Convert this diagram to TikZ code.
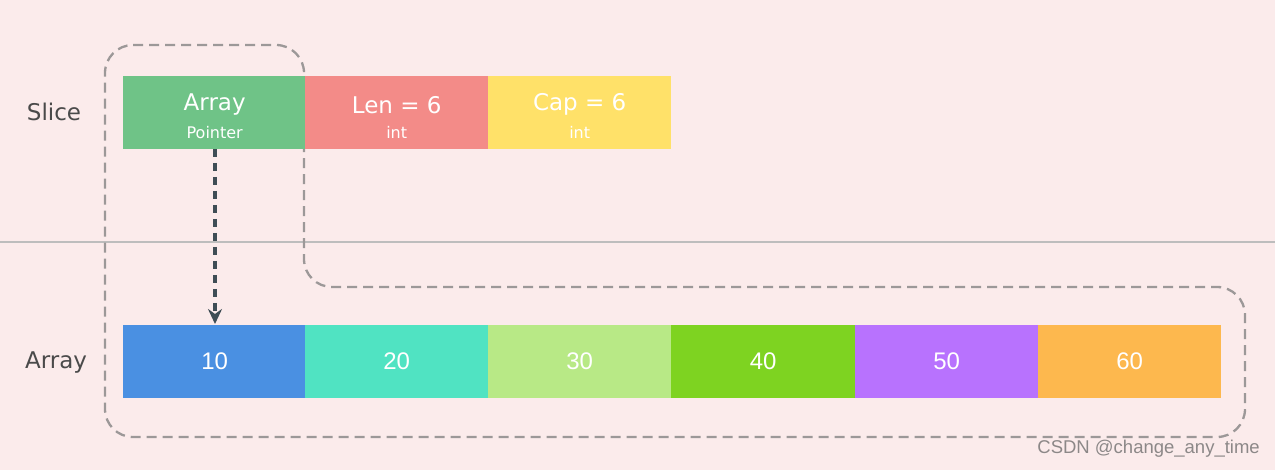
\documentclass[tikz,border=0pt]{standalone}
\usepackage{fontspec}
\setmainfont{Liberation Sans}
\newfontfamily\hdfont{DejaVu Sans}
\usetikzlibrary{arrows.meta}
\definecolor{bg}{HTML}{FBEBEB}
\definecolor{sepc}{HTML}{BDBDBD}
\definecolor{dashc}{HTML}{9C9898}
\definecolor{wmc}{HTML}{8C8888}
\definecolor{arrc}{HTML}{3F4D55}
\definecolor{lblc}{HTML}{4A4A4A}
\definecolor{cA}{HTML}{6FC387}
\definecolor{cL}{HTML}{F38B88}
\definecolor{cC}{HTML}{FFE169}
\definecolor{c1}{HTML}{4A90E2}
\definecolor{c2}{HTML}{50E3C2}
\definecolor{c3}{HTML}{B8E986}
\definecolor{c4}{HTML}{7ED321}
\definecolor{c5}{HTML}{B872FE}
\definecolor{c6}{HTML}{FDB84E}
\tikzset{
  cell/.style={anchor=north west, minimum width=183pt, minimum height=73pt, inner sep=0pt, text=white, align=center, font=\fontsize{24}{26}\selectfont},
  head/.style={text=white, inner sep=0pt, font=\hdfont\fontsize{23}{25}\selectfont},
  subt/.style={text=white, inner sep=0pt, font=\hdfont\fontsize{16}{18}\selectfont},
  side/.style={text=lblc, font=\hdfont\fontsize{23}{25}\selectfont, anchor=center}
}
\begin{document}
\begin{tikzpicture}[x=1pt,y=-1pt]
\fill[bg] (0,0) rectangle (1275,470);
\useasboundingbox (0,0) rectangle (1275,470);
\draw[sepc, line width=2pt] (0,242) -- (1275,242);
% dashed outline
\draw[dashc, line width=2.3pt, dash pattern=on 10pt off 6pt, rounded corners=28pt]
  (105,45) -- (304,45) -- (304,287) -- (1245,287) -- (1245,437) -- (105,437) -- cycle;
% slice
\node[cell, fill=cA] (sa) at (123,76) {};
\node[cell, fill=cL] (sl) at (305,76) {};
\node[cell, fill=cC] (sc) at (488,76) {};
\node[head] (sah) at ([yshift=8pt]sa.center) {Array};
\node[subt] (sas) at ([yshift=-20pt]sa.center) {Pointer};
\node[head] (slh) at ([yshift=8pt]sl.center) {Len = 6};
\node[subt] (sls) at ([yshift=-20pt]sl.center) {int};
\node[head] (sch) at ([yshift=8pt]sc.center) {Cap = 6};
\node[subt] (scs) at ([yshift=-20pt]sc.center) {int};
% array
\node[cell, fill=c1] (a1) at (123,325) {10};
\node[cell, fill=c2] (a2) at (305,325) {20};
\node[cell, fill=c3] (a3) at (488,325) {30};
\node[cell, fill=c4, minimum width=184pt] (a4) at (671,325) {40};
\node[cell, fill=c5] (a5) at (855,325) {50};
\node[cell, fill=c6] (a6) at (1038,325) {60};
\node[side] (ls) at (54,112) {Slice};
\node[side] (la) at (56,363) {Array};
\coordinate (p1) at (215,149);
\coordinate (p2) at (215,324);
\draw[arrc, line width=3.2pt, dash pattern=on 8pt off 6pt, -{Stealth[length=15pt,width=14pt,inset=5pt]}]
  (p1) -- (p2);
\node[anchor=south east, text=wmc, font=\fontsize{18.5}{20}\selectfont, inner sep=0pt] (wm) at (1260,458) {CSDN @change\_any\_time};
\end{tikzpicture}
\end{document}
